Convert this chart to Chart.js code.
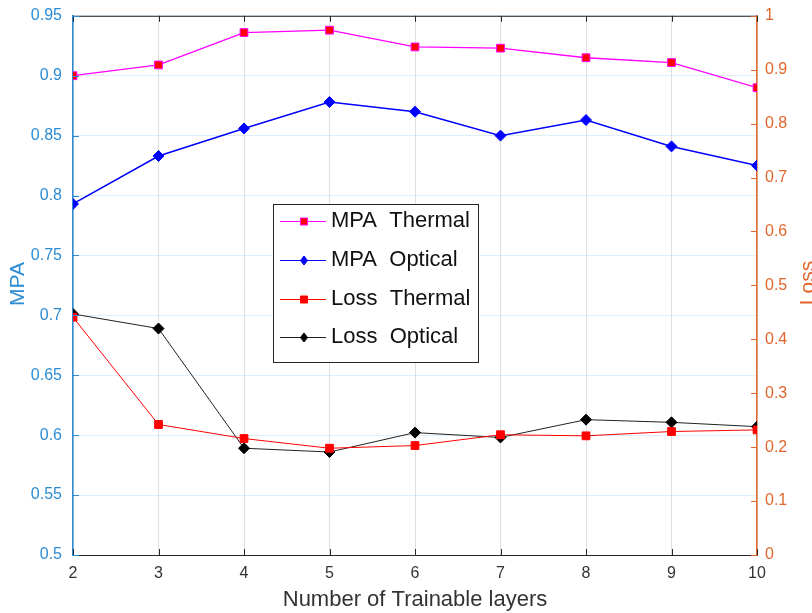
<!DOCTYPE html>
<html>
<head>
<meta charset="utf-8">
<script src="https://cdn.jsdelivr.net/npm/chart.js@4.4.1/dist/chart.umd.min.js"></script>
<style>
html, body { margin: 0; padding: 0; background: #fff; }
#wrap { width: 812px; height: 613px; position: relative; }
</style>
</head>
<body>
<div id="wrap"><canvas id="lossChart" width="812" height="613"></canvas></div>
<script>
// данные
var layers = [2, 3, 4, 5, 6, 7, 8, 9, 10];
var mpaThermal = [0.900, 0.909, 0.936, 0.938, 0.924, 0.923, 0.915, 0.911, 0.890];
var mpaOptical = [0.793, 0.833, 0.856, 0.878, 0.870, 0.850, 0.863, 0.841, 0.825];
var lossThermal = [0.441, 0.242, 0.216, 0.198, 0.203, 0.223, 0.221, 0.229, 0.232];
var lossOptical = [0.447, 0.420, 0.198, 0.191, 0.227, 0.218, 0.251, 0.246, 0.238];
var leftTicks = [0.5, 0.55, 0.6, 0.65, 0.7, 0.75, 0.8, 0.85, 0.9, 0.95];
var rightTicks = [0, 0.1, 0.2, 0.3, 0.4, 0.5, 0.6, 0.7, 0.8, 0.9, 1];

var blueAxis = '#2b8cd4';
var orangeAxis = '#e2662c';
var font = '"Liberation Sans", Arial, Helvetica, sans-serif';

function toPoints(values) {
    return values.map(function(v, i) { return { x: layers[i], y: v }; });
}

var legendItems = [
    { label: 'MPA  Thermal', line: '#ff00ff', fill: '#ff0000', edge: '#ff00ff', shape: 'square' },
    { label: 'MPA  Optical', line: '#0000ff', fill: '#0000ff', edge: '#0000ff', shape: 'diamond' },
    { label: 'Loss  Thermal', line: '#ff0000', fill: '#ff0000', edge: '#ff0000', shape: 'square' },
    { label: 'Loss  Optical', line: '#222222', fill: '#000000', edge: '#000000', shape: 'diamond' }
];

function marker(ctx, shape, x, y, r, fill, edge) {
    ctx.beginPath();
    if (shape === 'square') {
        ctx.rect(x - r, y - r, 2 * r, 2 * r);
    } else {
        ctx.moveTo(x, y - r - 1);
        ctx.lineTo(x + r, y);
        ctx.lineTo(x, y + r + 1);
        ctx.lineTo(x - r, y);
        ctx.closePath();
    }
    ctx.fillStyle = fill;
    ctx.fill();
    ctx.strokeStyle = edge;
    ctx.lineWidth = 1;
    ctx.stroke();
}

// рамка, внутренние засечки, подписи осей Y и легенда
var extrasPlugin = {
    id: 'extras',
    afterDatasetsDraw: function(chart) {
        var ctx = chart.ctx;
        var a = chart.chartArea;
        var xs = chart.scales.x, yl = chart.scales.y, yr = chart.scales.y1;
        ctx.save();
        ctx.lineWidth = 1;

        // верхняя граница
        ctx.strokeStyle = '#262626';
        ctx.beginPath();
        ctx.moveTo(a.left, a.top + 0.5);
        ctx.lineTo(a.right, a.top + 0.5);
        ctx.stroke();

        // засечки по X
        layers.forEach(function(v) {
            var px = Math.round(xs.getPixelForValue(v)) + 0.5;
            ctx.beginPath();
            ctx.moveTo(px, a.bottom); ctx.lineTo(px, a.bottom - 6);
            ctx.moveTo(px, a.top); ctx.lineTo(px, a.top + 6);
            ctx.stroke();
        });
        ctx.strokeStyle = blueAxis;
        leftTicks.forEach(function(v) {
            var py = Math.round(yl.getPixelForValue(v)) + 0.5;
            ctx.beginPath();
            ctx.moveTo(a.left, py); ctx.lineTo(a.left + 6, py);
            ctx.stroke();
        });
        ctx.strokeStyle = orangeAxis;
        rightTicks.forEach(function(v) {
            var py = Math.round(yr.getPixelForValue(v)) + 0.5;
            ctx.beginPath();
            ctx.moveTo(a.right, py); ctx.lineTo(a.right - 6, py);
            ctx.stroke();
        });

        // подписи осей
        ctx.font = '21px ' + font;
        ctx.textAlign = 'center';
        ctx.textBaseline = 'middle';
        ctx.fillStyle = blueAxis;
        ctx.save();
        ctx.translate(18, 284);
        ctx.rotate(-Math.PI / 2);
        ctx.fillText('MPA', 0, 0);
        ctx.restore();
        ctx.fillStyle = orangeAxis;
        ctx.save();
        ctx.translate(808, 283);
        ctx.rotate(-Math.PI / 2);
        ctx.fillText('Loss', 0, 0);
        ctx.restore();

        // легенда
        var bx = 273.5, by = 204.5, bw = 205, bh = 158;
        ctx.fillStyle = '#ffffff';
        ctx.fillRect(bx, by, bw, bh);
        ctx.strokeStyle = '#262626';
        ctx.strokeRect(bx, by, bw, bh);
        var rows = [221, 260, 299, 337];
        ctx.font = '22px ' + font;
        ctx.textAlign = 'left';
        legendItems.forEach(function(it, i) {
            var ry = rows[i];
            ctx.strokeStyle = it.line;
            ctx.lineWidth = 1.2;
            ctx.beginPath();
            ctx.moveTo(280, ry + 0.5);
            ctx.lineTo(326, ry + 0.5);
            ctx.stroke();
            marker(ctx, it.shape, 304, ry + 0.5, 3.5, it.fill, it.edge);
            ctx.fillStyle = '#111111';
            ctx.fillText(it.label, 331, ry);
        });
        ctx.restore();
    }
};

var ctx = document.getElementById('lossChart').getContext('2d');
var myChart = new Chart(ctx, {
    type: 'line',
    data: {
        datasets: [
            {
                label: 'MPA Thermal', data: toPoints(mpaThermal), yAxisID: 'y',
                borderColor: '#ff00ff', borderWidth: 1.3,
                pointStyle: 'rect', pointRadius: 5.5, pointBackgroundColor: '#ff0000',
                pointBorderColor: '#ff00ff', pointBorderWidth: 1
            },
            {
                label: 'MPA Optical', data: toPoints(mpaOptical), yAxisID: 'y',
                borderColor: '#0000ff', borderWidth: 1.5,
                pointStyle: 'rectRot', pointRadius: 5.5, pointBackgroundColor: '#0000ff',
                pointBorderColor: '#0000ff', pointBorderWidth: 1
            },
            {
                label: 'Loss Thermal', data: toPoints(lossThermal), yAxisID: 'y1',
                borderColor: '#ff0000', borderWidth: 1,
                pointStyle: 'rect', pointRadius: 5.5, pointBackgroundColor: '#ff0000',
                pointBorderColor: '#ff0000', pointBorderWidth: 1
            },
            {
                label: 'Loss Optical', data: toPoints(lossOptical), yAxisID: 'y1',
                borderColor: '#222222', borderWidth: 1,
                pointStyle: 'rectRot', pointRadius: 5.5, pointBackgroundColor: '#000000',
                pointBorderColor: '#000000', pointBorderWidth: 1
            }
        ]
    },
    options: {
        responsive: false,
        animation: false,
        layout: { padding: { top: 14, left: 0, right: 0, bottom: 0 } },
        plugins: { legend: { display: false }, tooltip: { enabled: false } },
        elements: { line: { tension: 0 } },
        scales: {
            x: {
                type: 'linear', min: 2, max: 10,
                afterFit: function(s) { s.height = 58; },
                afterBuildTicks: function(s) { s.ticks = layers.map(function(v) { return { value: v }; }); },
                ticks: { color: '#333333', font: { family: font, size: 16 }, padding: 9, maxRotation: 0 },
                grid: { color: 'rgba(0,0,0,0.12)', drawTicks: false },
                border: { color: '#262626', width: 1 },
                title: {
                    display: true, text: 'Number of Trainable layers', color: '#333333',
                    font: { family: font, size: 22 }, padding: { top: 0, bottom: 0 }
                }
            },
            y: {
                position: 'left', min: 0.5, max: 0.95,
                afterFit: function(s) { s.width = 73; },
                afterBuildTicks: function(s) { s.ticks = leftTicks.map(function(v) { return { value: v }; }); },
                ticks: {
                    color: blueAxis, font: { family: font, size: 16, lineHeight: 0.6 }, padding: 11,
                    callback: function(v) { return String(Number(v.toFixed(2))); }
                },
                grid: { color: 'rgba(43,140,212,0.15)', drawTicks: false },
                border: { color: blueAxis, width: 1.5 }
            },
            y1: {
                position: 'right', min: 0, max: 1,
                afterFit: function(s) { s.width = 55; },
                afterBuildTicks: function(s) { s.ticks = rightTicks.map(function(v) { return { value: v }; }); },
                ticks: {
                    color: orangeAxis, font: { family: font, size: 16, lineHeight: 0.6 }, padding: 8,
                    callback: function(v) { return String(Number(v.toFixed(1))); }
                },
                grid: { display: false, drawTicks: false },
                border: { color: orangeAxis, width: 1.5 }
            }
        }
    },
    plugins: [extrasPlugin]
});
</script>
</body>
</html>
